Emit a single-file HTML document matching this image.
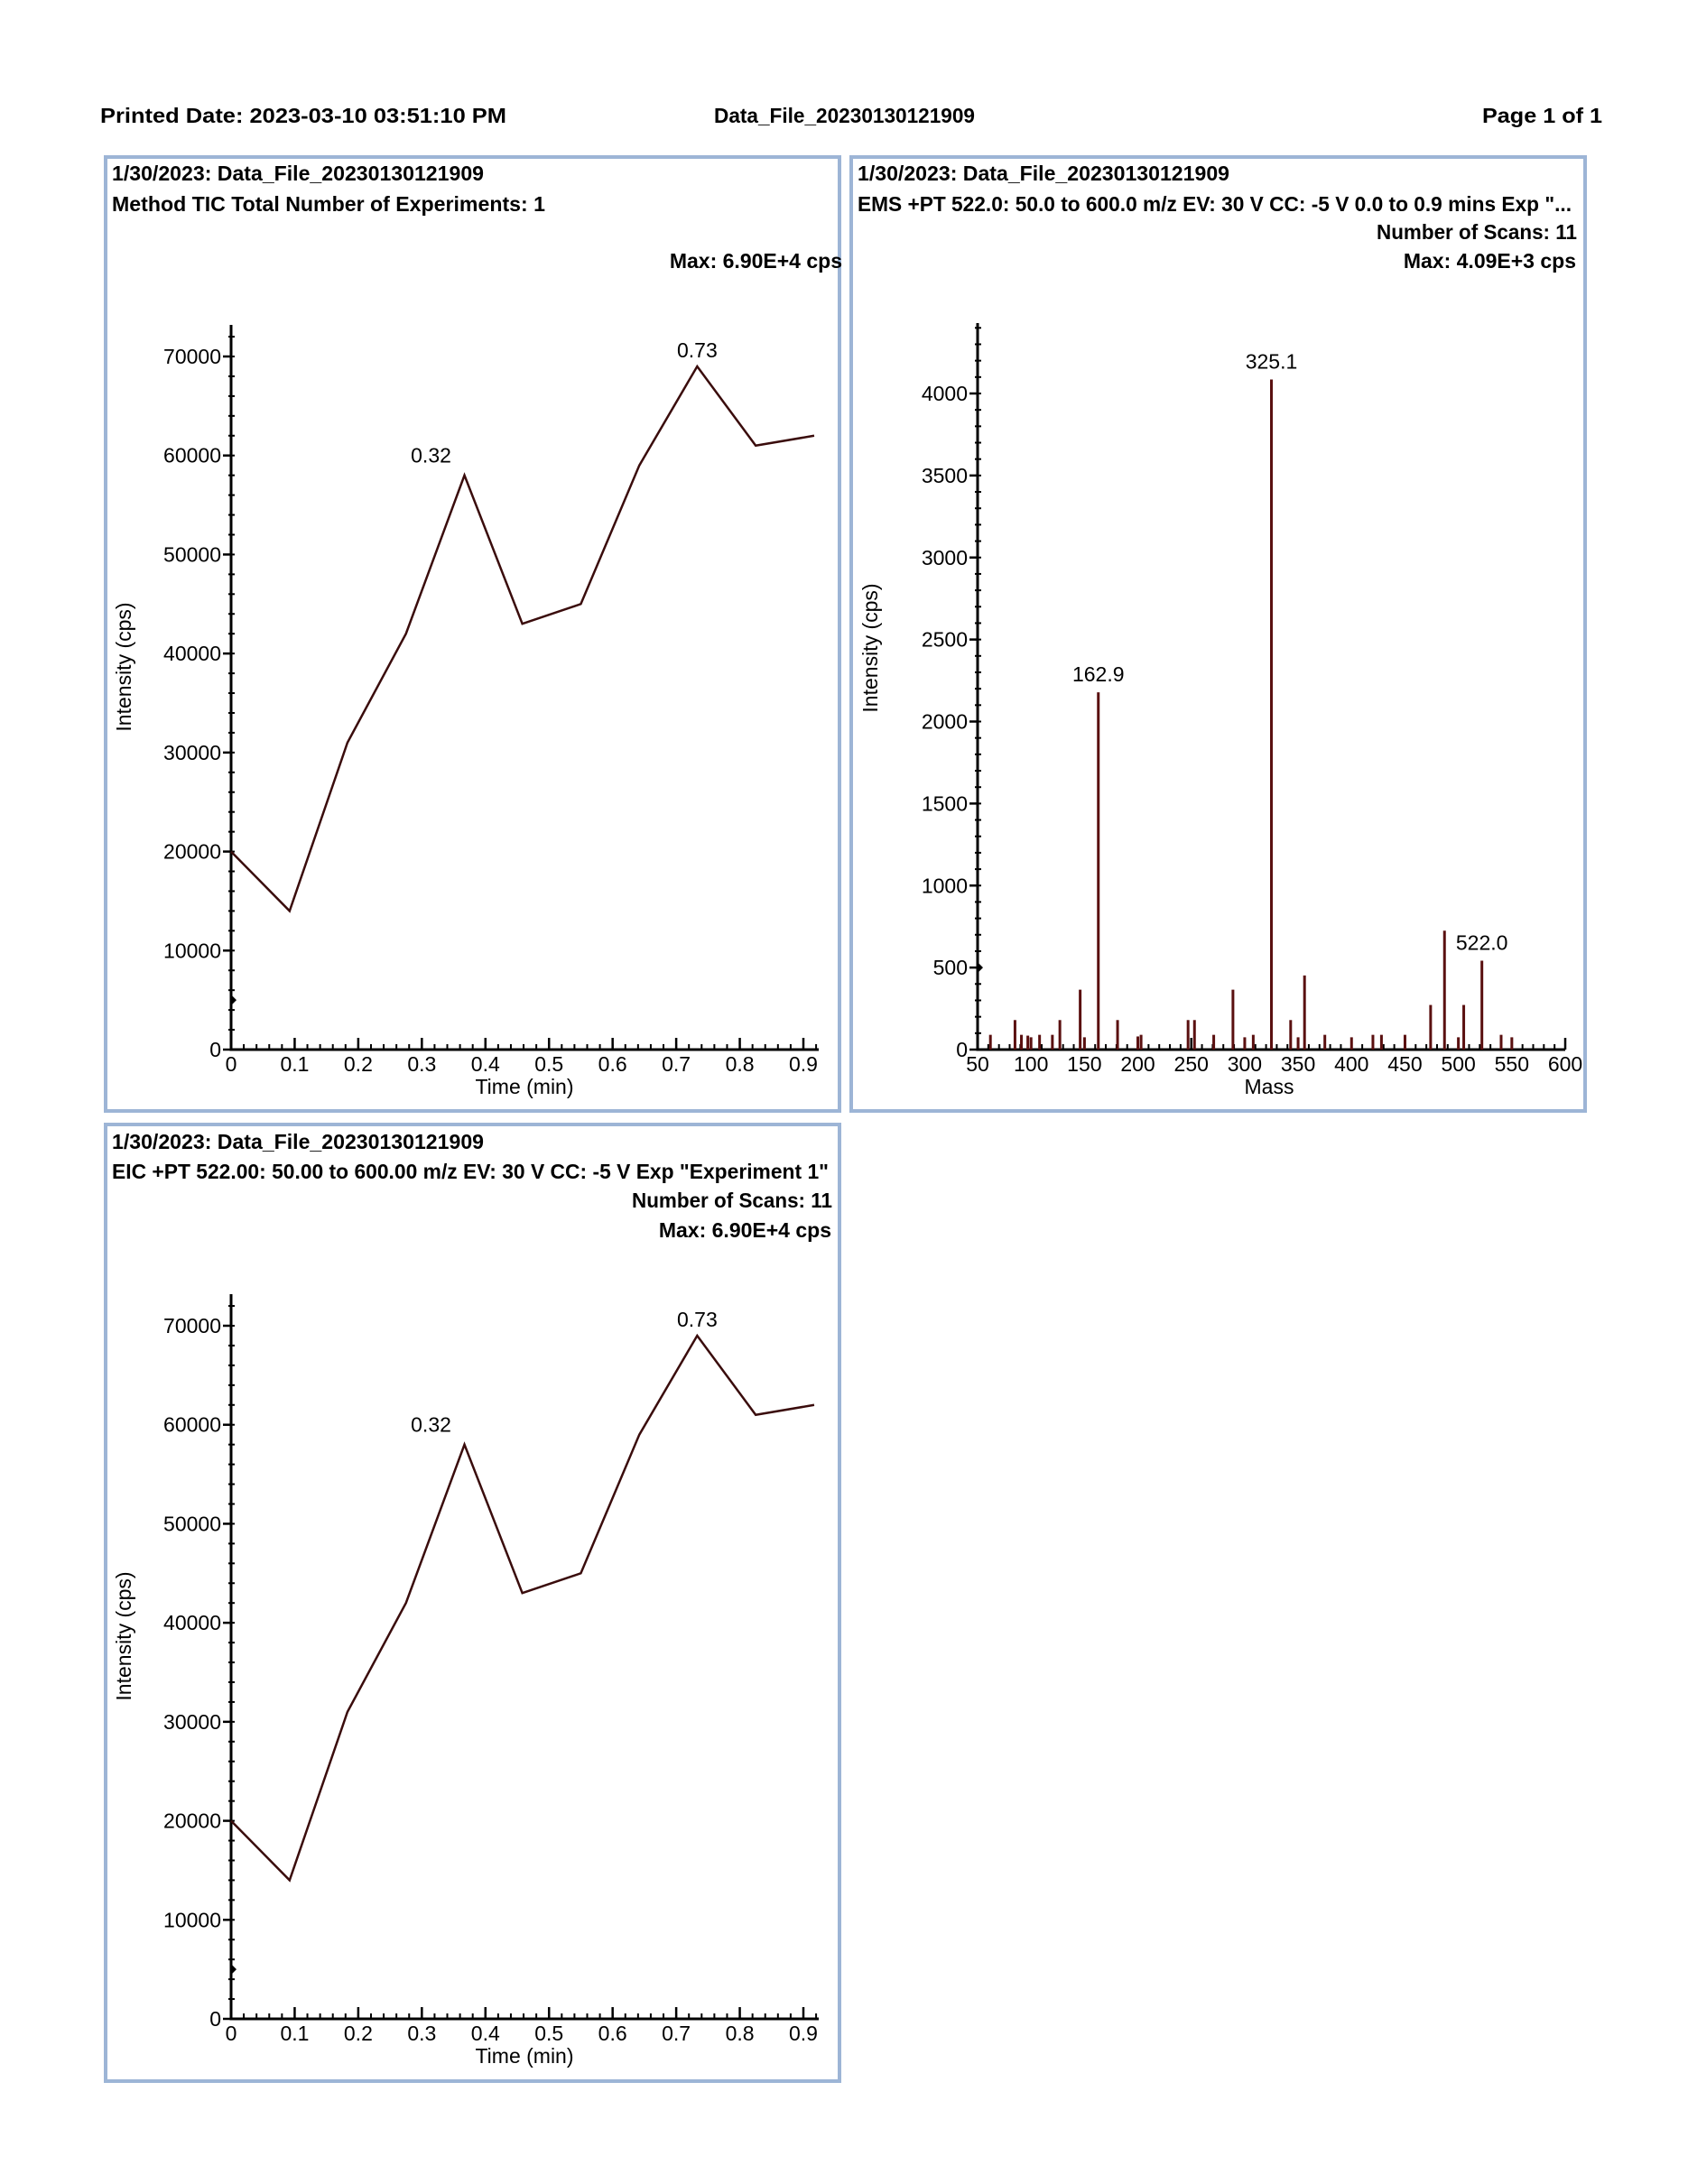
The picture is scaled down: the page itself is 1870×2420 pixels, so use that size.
<!DOCTYPE html>
<html><head><meta charset="utf-8"><style>
html,body{margin:0;padding:0;background:#fff}
svg{display:block}
.h{font-family:"Liberation Sans Narrow","Liberation Sans",sans-serif;font-weight:bold;font-size:23px;fill:#000}
.t{font-family:"Liberation Sans","DejaVu Sans",sans-serif;font-size:23px;fill:#000}
</style></head><body>
<svg id="page" xmlns="http://www.w3.org/2000/svg" width="1870" height="2420" viewBox="0 0 1870 2420">
<g>
<text class="h" x="111" y="136" textLength="450" lengthAdjust="spacingAndGlyphs">Printed Date: 2023-03-10 03:51:10 PM</text>
<text class="h" x="791" y="136" textLength="289" lengthAdjust="spacingAndGlyphs">Data_File_20230130121909</text>
<text class="h" x="1642" y="136" textLength="133" lengthAdjust="spacingAndGlyphs">Page 1 of 1</text>
</g>
<g>
<rect x="117" y="174" width="813" height="1057" fill="none" stroke="#9db5d6" stroke-width="4"/>
<text class="h" x="124" y="200" textLength="412" lengthAdjust="spacingAndGlyphs">1/30/2023: Data_File_20230130121909</text>
<text class="h" x="124" y="234" textLength="480" lengthAdjust="spacingAndGlyphs">Method TIC  Total Number of Experiments: 1</text>
<text class="h" x="933" y="297" text-anchor="end">Max: 6.90E+4 cps</text>
<g id="tic"></g>
</g>
<g>
<rect x="943" y="174" width="813" height="1057" fill="none" stroke="#9db5d6" stroke-width="4"/>
<text class="h" x="950" y="200" textLength="412" lengthAdjust="spacingAndGlyphs">1/30/2023: Data_File_20230130121909</text>
<text class="h" x="950" y="234" textLength="791" lengthAdjust="spacingAndGlyphs">EMS +PT 522.0: 50.0 to 600.0 m/z EV: 30 V CC: -5 V 0.0 to 0.9 mins Exp "...</text>
<text class="h" x="1747" y="265" text-anchor="end" textLength="222" lengthAdjust="spacingAndGlyphs">Number of Scans: 11</text>
<text class="h" x="1746" y="297" text-anchor="end">Max: 4.09E+3 cps</text>
<g id="ems"></g>
</g>
<g>
<rect x="117" y="1246" width="813" height="1060" fill="none" stroke="#9db5d6" stroke-width="4"/>
<text class="h" x="124" y="1273" textLength="412" lengthAdjust="spacingAndGlyphs">1/30/2023: Data_File_20230130121909</text>
<text class="h" x="124" y="1306" textLength="794" lengthAdjust="spacingAndGlyphs">EIC +PT 522.00: 50.00 to 600.00 m/z EV: 30 V CC: -5 V Exp "Experiment 1"</text>
<text class="h" x="922" y="1338" text-anchor="end" textLength="222" lengthAdjust="spacingAndGlyphs">Number of Scans: 11</text>
<text class="h" x="921" y="1371" text-anchor="end">Max: 6.90E+4 cps</text>
<g id="eic"></g>
</g>
</svg>
<script>
const times = [0,0.092,0.183,0.275,0.367,0.458,0.55,0.642,0.733,0.825,0.917];
const ticValues = [20000,14000,31000,42000,58000,43000,45000,59000,69000,61000,62000];
const eicValues = [20000,14000,31000,42000,58000,43000,45000,59000,69000,61000,62000];
const peakLabels = [{i:4,text:"0.32"},{i:8,text:"0.73"}];
const timeTicks = [0,0.1,0.2,0.3,0.4,0.5,0.6,0.7,0.8,0.9];
const intensityTicks = [0,10000,20000,30000,40000,50000,60000,70000];
const masses = [62,85,91,97,100,108,120,127,146,150,163,181,200,203,247,253,271,289,300,308,325,343,350,356,375,400,420,428,450,474,487,500,505,522,540,550];
const massIntensities = [90,180,90,85,75,90,90,180,365,75,2178,180,80,90,180,180,90,365,75,90,4085,180,75,452,90,75,90,90,90,272,725,75,272,542,90,75];
const massLabels = [{m:163,v:2178,text:"162.9"},{m:325,v:4085,text:"325.1"},{m:522,v:542,text:"522.0"}];
const massTicks = [50,100,150,200,250,300,350,400,450,500,550,600];
const countTicks = [0,500,1000,1500,2000,2500,3000,3500,4000];
const NS="http://www.w3.org/2000/svg";
function mk(parent,tag,attrs,txt){const e=document.createElementNS(NS,tag);for(const k in attrs)e.setAttribute(k,attrs[k]);if(txt!==undefined)e.textContent=txt;parent.appendChild(e);return e;}
function axes(g,o){
  const ax=mk(g,'path',{d:`M${o.x0} ${o.top}V${o.y0}H${o.xend}`,stroke:'#000','stroke-width':3,fill:'none'});
  
  
  for(let v=o.xmin;v<=o.xmaxMinor+1e-9;v+=o.xminor){const x=o.sx(v);const t=mk(g,'line',{x1:x,x2:x,y1:o.y0,y2:o.y0-6,stroke:'#000','stroke-width':2});
    
    }
  o.xticks.forEach(v=>{const x=o.sx(v);const t=mk(g,'line',{x1:x,x2:x,y1:o.y0,y2:o.y0-13,stroke:'#000','stroke-width':2.5});
    
    
    const l=mk(g,'text',{class:'t',x:x,y:o.y0+24,'text-anchor':'middle'},o.xfmt(v));
    
    });
  for(let v=0;v<=o.ymaxMinor+1e-9;v+=o.yminor){const y=o.sy(v);const t=mk(g,'line',{x1:o.x0-3,x2:o.x0+4,y1:y,y2:y,stroke:'#000','stroke-width':2});
    
    }
  o.yticks.forEach(v=>{const y=o.sy(v);const t=mk(g,'line',{x1:o.x0-9,x2:o.x0,y1:y,y2:y,stroke:'#000','stroke-width':2.5});
    
    
    const l=mk(g,'text',{class:'t',x:o.x0-11,y:y+8,'text-anchor':'end'},String(v));
    
    });
  const xt=mk(g,'text',{class:'t',x:o.xlabX,y:o.y0+49,'text-anchor':'middle'},o.xlab);
  
  
  const yt=mk(g,'text',{class:'t',x:0,y:0,'text-anchor':'middle',transform:`translate(${o.ylabX},${o.ylabY}) rotate(-90)`},'Intensity (cps)');
  
  
  const m=mk(g,'path',{d:`M${o.x0} ${o.sy(o.marker)-6}L${o.x0+6} ${o.sy(o.marker)}L${o.x0} ${o.sy(o.marker)+6}Z`,fill:'#000'});
  
  
}
function chrom(id,vals,y0,y70){
  const g=document.getElementById(id);
  const x0=256,x9=890;
  const sx=v=>x0+(x9-x0)*v/0.9, sy=v=>y0-(y0-y70)*v/70000;
  axes(g,{x0,y0,top:y70-35,xend:907,sx,sy,xmin:0,xmaxMinor:0.92,xminor:0.02,xticks:timeTicks,xfmt:v=>String(v),yticks:intensityTicks,yminor:2000,ymaxMinor:72000,xlabX:581,xlab:'Time (min)',ylabX:145,ylabY:(y0+y70)/2-40,marker:5000});
  const p=mk(g,'polyline',{points:times.map((t,i)=>sx(t)+','+sy(vals[i])).join(' '),fill:'none',stroke:'#3a0c0c','stroke-width':2.5,'stroke-linejoin':'miter'});
  
  
  peakLabels.forEach(pl=>{const x=sx(times[pl.i]),y=sy(vals[pl.i]);const t=mk(g,'text',{class:'t',x:pl.i===4?x-37:x,y:pl.i===4?y-14:y-10,'text-anchor':'middle'},pl.text);
    
    });
}
chrom('tic',ticValues,1163,395);
chrom('eic',eicValues,2237,1469);
(function(){
  const g=document.getElementById('ems');
  const x0=1083,x1=1734,y0=1163,y4=436;
  const sx=v=>x0+(x1-x0)*(v-50)/550, sy=v=>y0-(y0-y4)*v/4000;
  axes(g,{x0,y0,top:358,xend:x1,sx,sy,xmin:50,xmaxMinor:600,xminor:10,xticks:massTicks,xfmt:v=>String(v),yticks:countTicks,yminor:100,ymaxMinor:4400,xlabX:1406,xlab:'Mass',ylabX:972,ylabY:718,marker:500});
  masses.forEach((m,i)=>{const x=sx(m);const l=mk(g,'line',{x1:x,x2:x,y1:y0,y2:sy(massIntensities[i]),stroke:'#5a1010','stroke-width':3});
    
    });
  massLabels.forEach(pl=>{const t=mk(g,'text',{class:'t',x:sx(pl.m),y:sy(pl.v)-12,'text-anchor':'middle'},pl.text);
    
    });
})();
</script>
</body></html>
